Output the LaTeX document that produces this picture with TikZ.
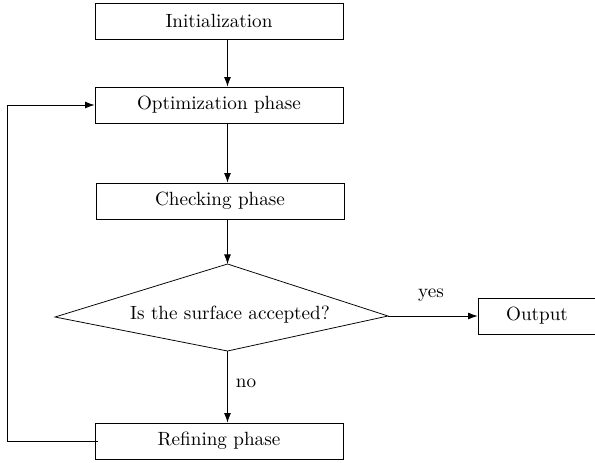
\documentclass[tikz,border=0pt]{standalone}
\usetikzlibrary{arrows.meta}
\tikzset{box/.style={draw, minimum width=129.6pt, minimum height=18.8pt, inner sep=0pt},
arr/.style={-{Latex[length=5pt,width=3.6pt]}}}

\begin{document}
\begin{tikzpicture}[x=0.5224pt, y=-0.5224pt]
    \useasboundingbox (0,0) rectangle (595,463);

    \node[box] (init) at (219,21) {Initialization};
    \node[box] (opt) at (219,105) {Optimization phase};
    \node[box] (check) at (220,201) {Checking phase};
    \node[box] (refine) at (219,441) {Refining phase};
    \node[box, minimum width=61.6pt] (out) at (537,316) {Output};

    % corners of the decision
    \coordinate (top) at (227.5,264);
    \coordinate (left) at (55,317);
    \coordinate (bot) at (227.5,351);
    \coordinate (right) at (388,316);
    \draw (top) -- (left) -- (bot) -- (right) -- cycle;
    \node (question) at (230,315) {Is the surface accepted?};

    \draw[arr] (init.south -| top) -- (opt.north -| top);
    \draw[arr] (opt.south -| top) -- (check.north -| top);
    \draw[arr] (check.south -| top) -- (top);
    \draw[arr] (right) -- (out.west);
    \draw[arr] (bot) -- (refine.north -| bot);
    \draw[arr] ([xshift=2pt]refine.west) -- ++(-91,0) |- (opt.west);

    \node (yes) at (431,295) {yes};
    \node (no) at (246,383) {no};

\end{tikzpicture}
\end{document}
